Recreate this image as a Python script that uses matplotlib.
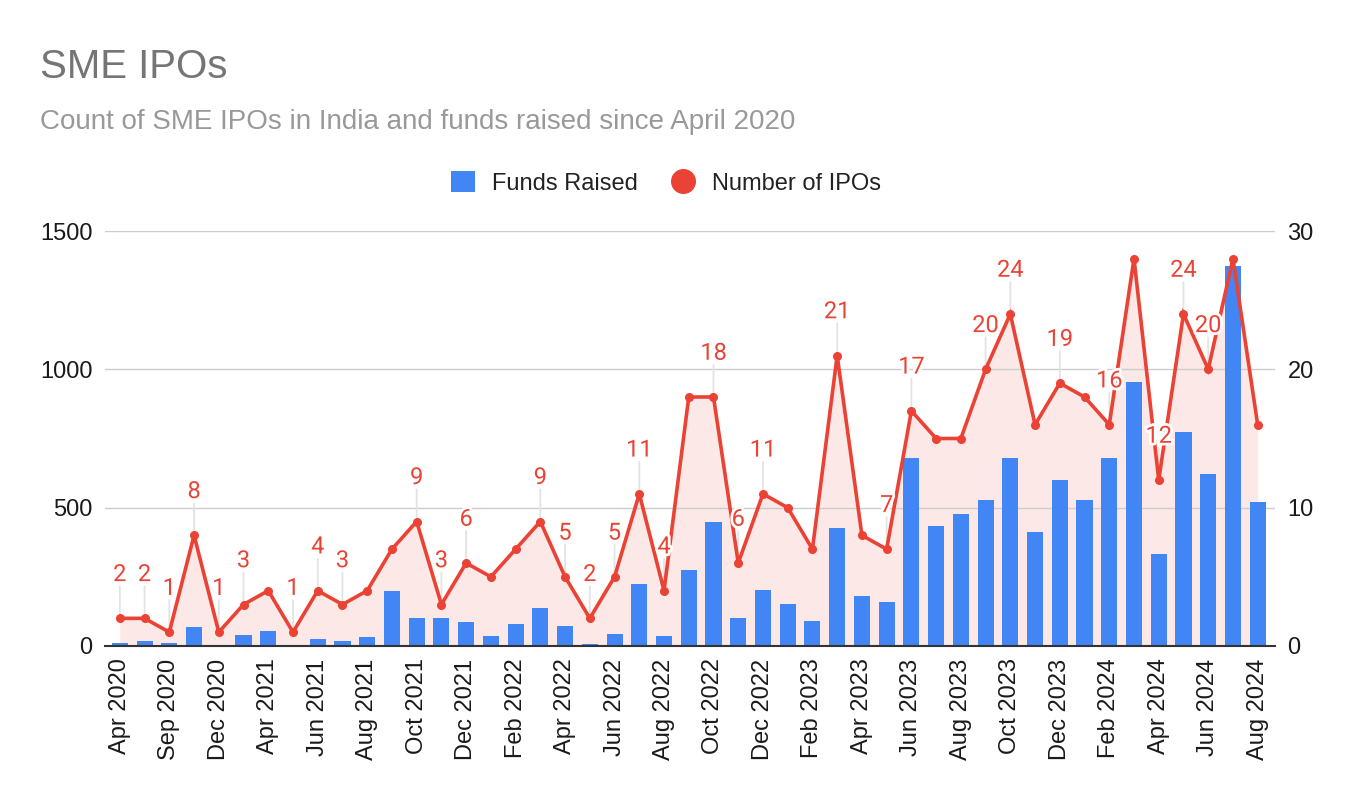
import numpy as np
import pandas as pd
import matplotlib.pyplot as plt
from matplotlib.patches import Patch
from matplotlib.lines import Line2D
import matplotlib.patheffects as pe

# months with IPO activity (a few gaps early on)
months = ["Apr 2020", "Jul 2020", "Sep 2020", "Nov 2020", "Dec 2020", "Mar 2021"]
months += list(pd.date_range("2021-04-01", "2024-08-01", freq="MS").strftime("%b %Y"))

# funds raised (left axis)
funds = [10, 17, 10, 67, 0, 39, 53, 0, 24, 17,
         31, 197, 103, 101, 87, 36, 80, 137, 72, 7,
         43, 224, 36, 275, 448, 101, 202, 152, 89, 428,
         181, 159, 680, 434, 478, 529, 680, 412, 600, 528,
         679, 954, 332, 773, 622, 1373, 520]

# number of IPOs (right axis)
ipos = [2, 2, 1, 8, 1, 3, 4, 1, 4, 3,
        4, 7, 9, 3, 6, 5, 7, 9, 5, 2,
        5, 11, 4, 18, 18, 6, 11, 10, 7, 21,
        8, 7, 17, 15, 15, 20, 24, 16, 19, 18,
        16, 28, 12, 24, 20, 28, 16]

# points that carry a data label
label_idx = [0, 1, 2, 3, 4, 5, 7, 8, 9, 12, 13, 14, 17, 18, 19, 20, 21, 22,
             24, 25, 26, 29, 31, 32, 35, 36, 38, 40, 42, 43, 44]

blue = "#4285F4"
red = "#EA4335"

plt.rcParams['font.family'] = ['Liberation Sans', 'DejaVu Sans']

fig = plt.figure(figsize=(13.66, 8), dpi=100)
ax = fig.add_axes([105/1366, 154/800, 1170/1366, 415/800])
ax_fill = ax.twinx()
ax_line = ax.twinx()
ax_fill.set_zorder(0)
ax.set_zorder(1)
ax_line.set_zorder(2)
ax.patch.set_visible(False)
ax_fill.axis('off')

x = np.arange(len(months))

# shaded area under the count line
ax_fill.fill_between(x, ipos, 0, color="#fce8e6", lw=0)
ax_fill.set_ylim(0, 30)

# bars
ax.bar(x, funds, width=0.65, color=blue, zorder=2)
ax.set_ylim(0, 1500)
ax.set_yticks([0, 500, 1000, 1500])
ax.set_xlim(-0.6, 46.7)
ax.grid(axis='y', color='#cccccc', lw=1)
ax.set_axisbelow(True)
ax.set_xticks(x[::2])
ax.set_xticklabels(months[::2], rotation=90, va='top', ha='center')
ax.tick_params(axis='both', length=0, labelsize=17, labelcolor='#1a1a1a', pad=9)
for s in ['top', 'left', 'right']:
    ax.spines[s].set_visible(False)
ax.spines['bottom'].set_color('#333333')
ax.spines['bottom'].set_linewidth(1.5)

# line
ax_line.plot(x, ipos, color=red, lw=2.6, marker='o', ms=5.5,
             solid_joinstyle='miter', zorder=3)
ax_line.set_ylim(0, 30)
ax_line.set_yticks([0, 10, 20, 30])
ax_line.tick_params(axis='y', length=0, labelsize=17, labelcolor='#1a1a1a', pad=9)
for s in ax_line.spines.values():
    s.set_visible(False)

# data labels with leader lines
for i in label_idx:
    ax_line.annotate("", xy=(x[i], ipos[i]), xytext=(0, 23), textcoords='offset points',
                     arrowprops=dict(arrowstyle='-', color='#e3e3e3', lw=1.3,
                                     shrinkA=0, shrinkB=3), zorder=1)
    ax_line.annotate(str(ipos[i]), xy=(x[i], ipos[i]), xytext=(0, 31.5),
                     textcoords='offset points', ha='center', va='center',
                     fontsize=17, color=red, family=['Roboto', 'DejaVu Sans'],
                     path_effects=[pe.withStroke(linewidth=4, foreground='white')],
                     zorder=4)

# titles
fig.text(40/1366, 1 - 78/800, "SME IPOs", fontsize=29, color='#757575', va='baseline')
fig.text(40/1366, 1 - 129/800, "Count of SME IPOs in India and funds raised since April 2020",
         fontsize=20, color='#999999', va='baseline')

# legend
handles = [Patch(facecolor=blue, edgecolor='none', label='Funds Raised'),
           Line2D([], [], color=red, marker='o', ls='', ms=17, label='Number of IPOs')]
fig.legend(handles=handles, loc='center', bbox_to_anchor=(666/1366, 1 - 183/800),
           ncol=2, frameon=False, fontsize=17, handlelength=1.0, handleheight=1.0,
           handletextpad=0.72, columnspacing=1.44, labelcolor='#222222')

fig.savefig('out.png', dpi=100, facecolor='white')
